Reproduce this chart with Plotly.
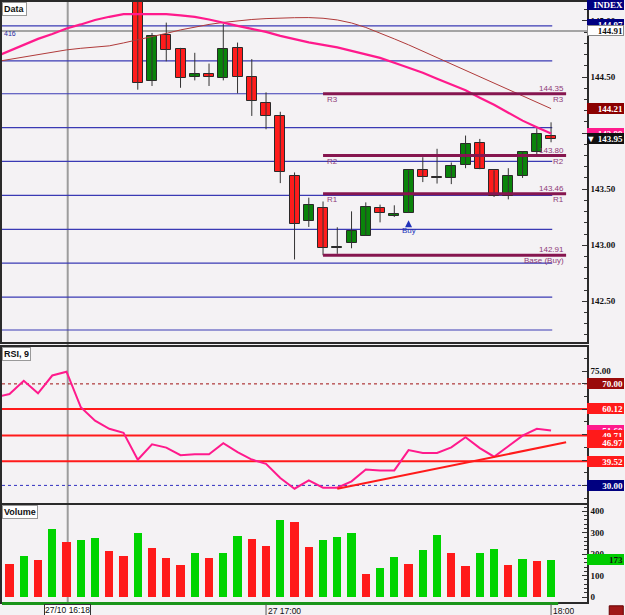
import plotly.graph_objects as go
import pandas as pd

# ---------------- data ----------------
times = pd.date_range("2008-10-27 16:03", periods=40, freq="3min")
N = None
opens = [N] * 10 + [145.30, 144.467, 144.873, 144.754, 144.500, 144.523, 144.493, 144.760, 144.500, 144.270,
                    144.153, 143.616, 143.220, 143.332, 142.976, 143.024, 143.084, 143.332, 143.264, 143.287,
                    143.667, 143.600, 143.598, 143.713, 143.909, 143.667, 143.438, 143.616, 143.829, 143.978]
highs = [N] * 10 + [145.40, 144.893, 144.985, 144.760, 144.716, 144.620, 144.976, 144.807, 144.660, 144.363,
                    144.190, 143.649, 143.424, 143.390, 143.160, 143.302, 143.382, 143.362, 143.356, 143.667,
                    143.785, 143.860, 143.738, 143.978, 143.948, 143.667, 143.687, 143.840, 144.043, 144.096]
lows = [N] * 10 + [144.387, 144.420, 144.640, 144.404, 144.470, 144.420, 144.470, 144.354, 144.153, 144.034,
                   143.554, 142.873, 143.163, 142.910, 142.923, 142.973, 143.084, 143.204, 143.252, 143.287,
                   143.563, 143.550, 143.545, 143.687, 143.678, 143.430, 143.409, 143.600, 143.791, 143.918]
closes = [N] * 10 + [144.449, 144.864, 144.740, 144.493, 144.523, 144.500, 144.754, 144.500, 144.286, 144.153,
                     143.649, 143.190, 143.356, 142.976, 142.980, 143.124, 143.338, 143.288, 143.282, 143.667,
                     143.607, 143.596, 143.711, 143.904, 143.678, 143.438, 143.616, 143.833, 143.996, 143.950]

ma_fast = [144.680, 144.733, 144.787, 144.840, 144.884, 144.933, 144.969, 145.009, 145.037, 145.060,
           145.062, 145.062, 145.060, 145.049, 145.036, 145.013, 144.982, 144.956, 144.929, 144.902,
           144.867, 144.836, 144.809, 144.787, 144.764, 144.733, 144.702, 144.671, 144.627, 144.582,
           144.538, 144.484, 144.436, 144.382, 144.316, 144.253, 144.182, 144.111, 144.053, 143.996]
ma_slow = [144.636, 144.658, 144.680, 144.702, 144.724, 144.742, 144.756, 144.764, 144.778, 144.804,
           144.831, 144.858, 144.889, 144.920, 144.947, 144.969, 144.987, 145.002, 145.013, 145.021,
           145.027, 145.029, 145.030, 145.024, 145.009, 144.982, 144.942, 144.893, 144.840, 144.787,
           144.730, 144.673, 144.616, 144.559, 144.502, 144.445, 144.388, 144.332, 144.275, 144.218]

rsi = [64.7, 66.0, 71.2, 66.3, 73.3, 74.8, 60.8, 55.5, 52.3, 50.7,
       40.1, 46.2, 44.9, 41.9, 42.3, 42.3, 46.6, 43.1, 40.2, 38.5,
       32.9, 28.7, 32.0, 29.1, 29.1, 31.6, 36.3, 35.9, 35.9, 43.9,
       42.8, 42.8, 45.0, 49.0, 44.7, 41.3, 45.4, 49.6, 52.3, 51.6]

volume = [N, 153, 192, 172, 315, 253, 265, 276, 215, 191, 296, 226, 180, 149, 203, 180, 206, 285, 267, 236,
          358, 349, 233, 265, 279, 296, 107, 133, 183, 153, 219, 287, 203, 144, 203, 222, 149, 177, 167, 173]
vol_dir = [N, "r", "g", "r", "g", "r", "g", "g", "r", "r", "g", "r", "r", "r", "g", "r", "g", "g", "r", "r",
           "g", "r", "r", "g", "g", "g", "r", "g", "g", "r", "g", "g", "r", "r", "g", "g", "r", "g", "r", "g"]

grid_levels = [144.956, 144.644, 144.351, 144.049, 143.747, 143.444, 143.142, 142.840, 142.538, 142.244]
pivot_levels = [144.35, 143.80, 143.46, 142.91]
pivot_names = ["R3", "R2", "R1", "Base (Buy)"]
rsi_levels = [60.12, 49.71, 39.52]
rsi_trend_x = ["2008-10-27 17:15:00", "2008-10-27 18:03:10"]
rsi_trend_y = [28.7, 46.97]
price_ticks = [142.5, 143.0, 143.5, 144.0, 144.5, 145.0]
rsi_ticks = [30, 40, 50, 60, 70, 75]
vol_ticks = [0, 100, 200, 300, 400]

# ---------------- style ----------------
BG = "#f4f2f4"
RED = "#ff1c1c"
GREEN = "#0a840a"
VRED = "#ff1a1a"
VGREEN = "#00d400"
PIV = "#86164f"
PIVTXT = "#8e3a78"
LAB = dict(family="Liberation Serif", size=9, color="#111", weight="bold")
T_START = "2008-10-27 16:04:25"
T_END = "2008-10-27 18:07:34"
CROSS_T = "2008-10-27 16:18:15"
LEVEL_END = "2008-10-27 18:00:15"
PIV_END = "2008-10-27 18:03:10"

fig = go.Figure()

# candle wicks
wx, wy = [], []
for t, h, l in zip(times, highs, lows):
    if h is None:
        continue
    wx += [t, t, None]
    wy += [h, l, None]
fig.add_trace(go.Scatter(x=wx, y=wy, mode="lines", line=dict(color="#333", width=1),
                         xaxis="x", yaxis="y", hoverinfo="skip", showlegend=False))

# candle bodies
bx, bbase, bh, bcol = [], [], [], []
for t, o, c in zip(times, opens, closes):
    if o is None:
        continue
    bx.append(t)
    lo, hi = min(o, c), max(o, c)
    bbase.append(lo)
    bh.append(max(hi - lo, 0.012))
    bcol.append(GREEN if c >= o else RED)
fig.add_trace(go.Bar(x=bx, y=bh, base=bbase, width=126000, marker=dict(color=bcol, line=dict(color="#2a2a2a", width=1)),
                     xaxis="x", yaxis="y", showlegend=False, hoverinfo="skip"))

# moving averages
fig.add_trace(go.Scatter(x=times, y=ma_slow, mode="lines", line=dict(color="#b03a3a", width=1),
                         xaxis="x", yaxis="y", showlegend=False))
fig.add_trace(go.Scatter(x=times, y=ma_fast, mode="lines", line=dict(color="#ff1a8c", width=2.2),
                         xaxis="x", yaxis="y", showlegend=False))

# Buy marker
fig.add_trace(go.Scatter(x=[times[29]], y=[143.222], mode="markers",
                         marker=dict(symbol="arrow-up", size=7, color="#2233bb"),
                         xaxis="x", yaxis="y", showlegend=False))

# RSI
fig.add_trace(go.Scatter(x=times, y=rsi, mode="lines", line=dict(color="#ff1a8c", width=2),
                         xaxis="x2", yaxis="y2", showlegend=False))
fig.add_trace(go.Scatter(x=rsi_trend_x, y=rsi_trend_y, mode="lines", line=dict(color="#ff1a1a", width=2),
                         xaxis="x2", yaxis="y2", showlegend=False))

# Volume
vcols = [None if d is None else (VGREEN if d == "g" else VRED) for d in vol_dir]
fig.add_trace(go.Bar(x=times[1:], y=volume[1:], width=104000, marker=dict(color=vcols[1:], line=dict(width=0)),
                     xaxis="x3", yaxis="y3", showlegend=False))

shapes = []
annos = []

# blue level lines
for lv in grid_levels:
    shapes.append(dict(type="line", xref="x", yref="y", x0=T_START, x1=LEVEL_END, y0=lv, y1=lv,
                       line=dict(color="#3a3ab4", width=1.2), layer="below"))
# crosshair
shapes.append(dict(type="line", xref="x domain", yref="y", x0=0, x1=1, y0=144.911, y1=144.911,
                   line=dict(color="#a4a4a4", width=2), layer="below"))
shapes.append(dict(type="line", xref="x", yref="paper", x0=CROSS_T, x1=CROSS_T, y0=0, y1=1,
                   line=dict(color="#9c9c9c", width=2), layer="below"))

# pivot lines
for lv, nm in zip(pivot_levels, pivot_names):
    shapes.append(dict(type="line", xref="x", yref="y", x0=times[23], x1=PIV_END, y0=lv, y1=lv,
                       line=dict(color=PIV, width=3)))
    annos.append(dict(x=PIV_END, y=lv, xref="x", yref="y", text=f"{lv:.2f}", showarrow=False,
                      xanchor="right", yanchor="bottom", yshift=-1,
                      font=dict(family="Liberation Sans", size=8, color=PIVTXT)))
    annos.append(dict(x=PIV_END, y=lv, xref="x", yref="y", text=nm, showarrow=False,
                      xanchor="right", yanchor="top", yshift=1,
                      font=dict(family="Liberation Sans", size=8, color=PIVTXT)))
    if nm.startswith("R"):
        annos.append(dict(x=times[23], y=lv, xref="x", yref="y", text=nm, showarrow=False,
                          xanchor="left", yanchor="top", xshift=2, yshift=1,
                          font=dict(family="Liberation Sans", size=8, color=PIVTXT)))

annos.append(dict(x=times[29], y=143.19, xref="x", yref="y", text="Buy", showarrow=False,
                  yanchor="top", font=dict(family="Liberation Sans", size=8, color="#2233bb")))

# RSI levels
for lv in rsi_levels:
    shapes.append(dict(type="line", xref="x2 domain", yref="y2", x0=0, x1=1, y0=lv, y1=lv,
                       line=dict(color="#ff1a1a", width=2), layer="below"))
shapes.append(dict(type="line", xref="x2 domain", yref="y2", x0=0, x1=1, y0=70, y1=70,
                   line=dict(color="#a01010", width=1, dash="dot"), layer="below"))
shapes.append(dict(type="line", xref="x2 domain", yref="y2", x0=0, x1=1, y0=30, y1=30,
                   line=dict(color="#3030c0", width=1, dash="dot"), layer="below"))

# bottom strip
shapes.append(dict(type="line", xref="x3", yref="paper", x0=T_START, x1="2008-10-27 18:01:30", y0=0.001, y1=0.001,
                   line=dict(color="#1a941a", width=3)))
shapes.append(dict(type="rect", xref="paper", yref="paper", x0=1.038, x1=1.062, y0=-0.003, y1=-0.022,
                   fillcolor="#a01818", line=dict(color="#600", width=1)))
for tx in [times[19], times[39]]:
    shapes.append(dict(type="line", xref="x3", yref="paper", x0=tx, x1=tx, y0=0, y1=-0.02,
                       line=dict(color="#555", width=1)))

# panel titles
for ref, txt in [("y", "Data"), ("y2", "RSI, 9"), ("y3", "Volume")]:
    xr = {"y": "x", "y2": "x2", "y3": "x3"}[ref]
    annos.append(dict(x=0, y=1, xref=f"{xr} domain", yref=f"{ref} domain", text=f"<b>{txt}</b>", showarrow=False,
                      xanchor="left", yanchor="top", bgcolor="white", bordercolor="#999", borderwidth=1, borderpad=1,
                      font=dict(family="Liberation Sans", size=9, color="#111")))
annos.append(dict(x=0, y=144.89, xref="x domain", yref="y", text="416", showarrow=False, xanchor="left",
                  font=dict(family="Liberation Sans", size=7, color="#2a2aa0")))

# x labels
XL = dict(family="Liberation Sans", size=8.5, color="#111")
annos.append(dict(x=CROSS_T, y=0, xref="x3", yref="paper", text="27/10 16:18", showarrow=False, yanchor="top",
                  yshift=0, bgcolor="white", bordercolor="#333", borderwidth=1, borderpad=0, height=10, font=XL))
annos.append(dict(x=times[19], y=0, xref="x3", yref="paper", text="27 17:00", showarrow=False, yanchor="top",
                  xanchor="left", yshift=0, height=10, font=XL))
annos.append(dict(x=times[39], y=0, xref="x3", yref="paper", text="18:00", showarrow=False, yanchor="top",
                  xanchor="left", yshift=0, height=10, font=XL))


def tag(yref, yv, text, bg, fg="white", border=None):
    annos.append(dict(x=1, y=yv, xref="paper", yref=yref, text=text, showarrow=False, xanchor="left",
                      yanchor="middle", align="right", width=35, height=9, bgcolor=bg, borderpad=0,
                      bordercolor=border or bg, borderwidth=1,
                      font=dict(family="Liberation Serif", size=9, color=fg, weight="bold")))


tag("y", 145.145, "INDEX", "#000080")
tag("y", 144.964, "144.97", "#000080")
tag("y", 144.911, "144.91", "white", "#111", "#888")
tag("y", ma_slow[-1], "144.21", "#8b0000")
tag("y", ma_fast[-1], "143.99", "#ff1a8c")
tag("y", closes[-1], "▼ 143.95", "#101010")
tag("y2", 70.0, "70.00", "#9a0a0a")
tag("y2", 60.12, "60.12", "#ff1a1a")
tag("y2", rsi[-1], f"{rsi[-1]:.2f}", "#ff1a8c")
tag("y2", 49.71, "49.71", "#ff1a1a")
tag("y2", 46.97, "46.97", "#ff1a1a")
tag("y2", 39.52, "39.52", "#ff1a1a")
tag("y2", 30.0, "30.00", "#000080")
tag("y3", volume[-1], "173", "#00cc00", "#111")

AX = dict(showline=True, linecolor="#2a2a2a", linewidth=1.5, mirror=True, showgrid=False, zeroline=False)
xcommon = dict(type="date", range=[T_START, T_END], showticklabels=False, ticks="", **AX)

fig.update_layout(
    width=625, height=615, margin=dict(l=0, r=38, t=0, b=11),
    paper_bgcolor=BG, plot_bgcolor=BG, bargap=0, barmode="overlay",
    font=dict(family="Liberation Sans", size=9, color="#111"),
    xaxis=dict(anchor="y", domain=[0, 1], **xcommon),
    xaxis2=dict(anchor="y2", domain=[0, 1], matches="x", **xcommon),
    xaxis3=dict(anchor="y3", domain=[0, 1], matches="x", **xcommon),
    yaxis=dict(domain=[0.4354, 1], range=[142.138, 145.169], side="right", tickvals=price_ticks,
               tickformat=".2f", ticks="inside", ticklen=5, tickcolor="#333", tickfont=LAB,
               minor=dict(dtick=0.1, ticks="inside", ticklen=3, tickcolor="#333"), **AX),
    yaxis2=dict(domain=[0.1672, 0.4272], range=[22.93, 84.6], side="right", tickvals=rsi_ticks,
                tickformat=".2f", ticks="inside", ticklen=5, tickcolor="#333", tickfont=LAB,
                minor=dict(dtick=5, ticks="inside", ticklen=3, tickcolor="#333"), **AX),
    yaxis3=dict(domain=[0.0033, 0.1639], range=[-23.3, 427.9], side="right", tickvals=vol_ticks,
                ticks="inside", ticklen=5, tickcolor="#333", tickfont=LAB,
                minor=dict(dtick=20, ticks="inside", ticklen=3, tickcolor="#333"), **AX),
    shapes=shapes, annotations=annos, showlegend=False,
)

fig.write_html("out.html")
